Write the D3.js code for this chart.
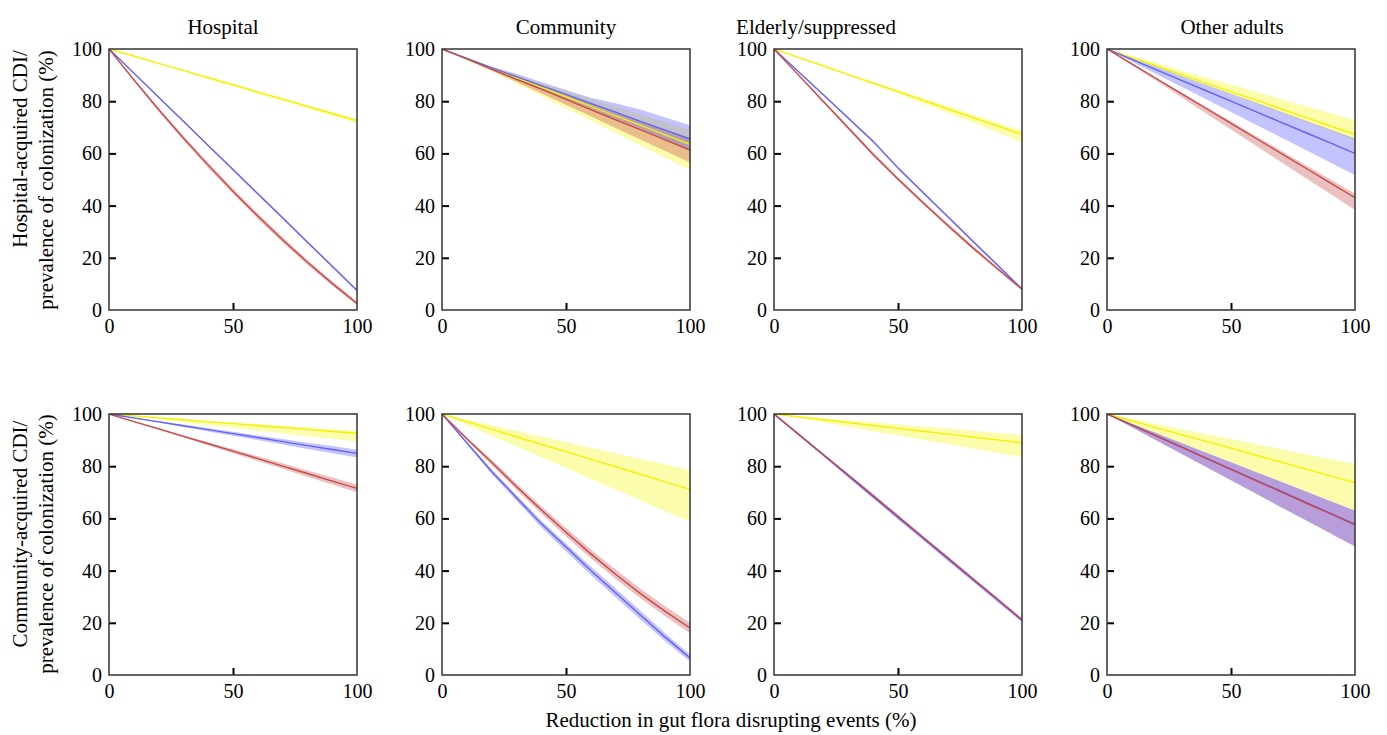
<!DOCTYPE html>
<html><head><meta charset="utf-8">
<script src="https://cdn.jsdelivr.net/npm/d3@7"></script>
<style>
html,body{margin:0;padding:0;background:#fff;}
svg{display:block;}
</style></head>
<body><svg id="chart" width="1387" height="735"></svg>
<script>
// ---------- DATA ----------
const xs = [0,10,20,30,40,50,60,70,80,90,100];
const columnTitles = ["Hospital","Community","Elderly/suppressed","Other adults"];
const rowLabels = [["Hospital-acquired CDI/","prevalence of colonization (%)"],
                   ["Community-acquired CDI/","prevalence of colonization (%)"]];
const xAxisLabel = "Reduction in gut flora disrupting events (%)";
const yTicks = [0,20,40,60,80,100];
const xTicks = [0,50,100];

// Row 1: hospital-acquired
const hospHA_yellow = {mid:[100,97.3,94.5,91.8,89,86.3,83.5,80.8,78,75.3,72.5], lo:[100,97.2,94.3,91.5,88.6,85.8,82.9,80.1,77.2,74.4,71.5], hi:[100,97.4,94.6,92,89.3,86.6,83.9,81.2,78.5,75.9,73.2]};
const hospHA_blue   = {mid:[100,90.8,81.5,72.3,63,53.8,44.5,35.3,26,16.8,7.5], lo:[100,90.7,81.3,72,62.7,53.4,44.1,34.9,25.6,16.4,7.1], hi:[100,90.9,81.7,72.6,63.3,54.1,44.9,35.7,26.4,17.2,7.9]};
const hospHA_red    = {mid:[100,88.2,76.8,65.9,55.5,45.5,36,26.9,18.3,10.2,2.5], lo:[100,87.8,76.1,65,54.4,44.4,34.9,25.9,17.3,9.3,1.8], hi:[100,88.6,77.4,66.7,56.4,46.5,37,27.9,19.2,11,3.2]};

const commHA_yellow = {mid:[100,96.3,92.6,89,85.4,81.7,78,74.4,70.8,67.1,63.5], lo:[100,95.7,91.5,86.8,82,77.3,72.5,67.8,63,58.3,53.5], hi:[100,96.6,93.1,90,86.9,83.9,80.9,78,75,72,69]};
const commHA_blue   = {mid:[100,96.4,92.8,89.4,86,82.6,79.2,75.8,72.3,68.9,65.5], lo:[100,96,92,88.3,84.6,80.9,77.2,73.5,69.5,65.5,61], hi:[100,96.6,93.3,90.5,87.4,84.3,81.3,79.2,76.8,73.8,70.8]};
const commHA_red    = {mid:[100,96.2,92.3,88.4,84.6,80.7,76.8,72.9,69.1,65.2,61.3], lo:[100,96,91.8,87.4,83,78.6,74.2,69.7,65.3,60.9,56.5], hi:[100,96.4,92.8,89.3,85.9,82.5,79,75.6,72.3,69.1,66]};

const eldHA_yellow  = {mid:[100,96.7,93.5,90.2,86.9,83.7,80.4,77.1,73.8,70.6,67.3], lo:[100,96.6,93.2,89.8,86.3,82.9,79.2,75.6,71.9,68.1,64.2], hi:[100,96.8,93.7,90.5,87.4,84.3,81.2,78.1,74.9,71.8,68.7]};
const eldHA_blue    = {mid:[100,91.2,82.4,73.5,64.6,54.4,45.1,35.8,26.5,17.3,8], lo:[100,91,82.1,73.1,64.2,54,44.7,35.4,26.1,16.9,7.6], hi:[100,91.4,82.7,73.9,65,54.8,45.5,36.2,26.9,17.7,8.4]};
const eldHA_red     = {mid:[100,89.9,79.8,69.7,59.6,50.2,41.2,32.5,24,15.9,8], lo:[100,89.6,79.3,69.1,58.9,49.5,40.5,31.8,23.3,15.3,7.5], hi:[100,90.2,80.3,70.3,60.3,50.9,41.9,33.2,24.7,16.5,8.5]};

const othHA_yellow  = {mid:[100,96.7,93.5,90.2,86.9,83.6,80.4,77.1,73.8,70.5,67.3], lo:[100,96.5,93,89.5,86,82.5,79,75.5,72,68.5,65], hi:[100,97.3,94.6,91.8,89.1,86.4,83.7,80.9,78.2,75.5,72.8]};
const othHA_blue    = {mid:[100,96,92,88,84,80,76,72,68,64,60], lo:[100,95.2,90.3,85.5,80.7,75.9,71,66.2,61.4,56.5,51.7], hi:[100,96.6,93.2,89.7,86.3,82.9,79.5,76.1,72.6,69.2,65.8]};
const othHA_red     = {mid:[100,94.3,88.6,82.9,77.2,71.5,65.8,60.1,54.4,48.7,43], lo:[100,93.8,87.7,81.5,75.3,69.2,63,56.8,50.6,44.5,38.3], hi:[100,94.5,88.9,83.4,77.8,72.3,66.7,61.2,55.6,50.1,44.5]};

// Row 2: community-acquired
const hospCA_yellow = {mid:[100,99.3,98.5,97.8,97,96.3,95.6,94.8,94.1,93.3,92.6], lo:[100,98.9,97.9,96.8,95.8,94.7,93.6,92.6,91.5,90.5,89.4], hi:[100,99.4,98.7,98.1,97.4,96.8,96.2,95.5,94.9,94.2,93.6]};
const hospCA_blue   = {mid:[100,98.5,97,95.5,94,92.5,91,89.4,87.9,86.4,84.9], lo:[100,98.3,96.7,95,93.3,91.7,90,88.3,86.6,85,83.3], hi:[100,98.6,97.3,95.9,94.5,93.2,91.8,90.4,89,87.7,86.3]};
const hospCA_red    = {mid:[100,97.1,94.3,91.4,88.6,85.8,82.9,80,77.2,74.3,71.5], lo:[100,97,94,91,88,85,82,79,76,73,70], hi:[100,97.3,94.6,91.9,89.2,86.5,83.8,81.1,78.4,75.7,73]};

const commCA_yellow = {mid:[100,97.1,94.2,91.3,88.4,85.6,82.7,79.8,76.9,74,71.1], lo:[100,95.9,91.7,87.6,83.5,79.4,75.2,71.1,67,62.8,58.7], hi:[100,97.9,95.7,93.6,91.4,89.3,87.1,85,82.8,80.7,78.5]};
const commCA_blue   = {mid:[100,89,78,68,58,49,40,31.5,23,14.5,6.5], lo:[100,88.5,77,66.8,56.6,47.4,38.3,29.8,21.3,12.9,5.2], hi:[100,89.4,78.8,69,59.2,50.4,41.6,33.1,24.6,16,7.9]};
const commCA_red    = {mid:[100,90.5,81.5,72.2,63.3,54.7,46.4,38.6,31.2,24.4,18], lo:[100,90,80.5,71,61.9,53.1,44.7,36.8,29.4,22.5,16], hi:[100,91,82.5,73.5,64.7,56.3,48.1,40.4,33,26.3,20]};

const eldCA_yellow  = {mid:[100,98.9,97.8,96.7,95.6,94.5,93.4,92.3,91.2,90.1,89], lo:[100,98.4,96.7,95.1,93.4,91.8,90.1,88.5,86.8,85.2,83.5], hi:[100,99.2,98.4,97.6,96.8,96,95.2,94.4,93.6,92.8,92]};
const eldCA_blue    = {mid:[100,92.1,84.2,76.3,68.3,60.4,52.5,44.6,36.7,28.8,20.9], lo:[100,91.8,83.7,75.6,67.6,59.6,51.7,43.8,35.9,28,20.2], hi:[100,92.3,84.5,76.8,68.9,61,53.1,45.2,37.3,29.4,21.5]};
const eldCA_red     = {mid:[100,92.2,84.4,76.6,68.8,60.8,52.9,45,37.1,29.2,21.2], lo:[100,92,84.1,76.2,68.3,60.4,52.5,44.6,36.7,28.8,20.8], hi:[100,92.4,84.7,77,69.3,61.3,53.3,45.4,37.5,29.6,21.6]};

const othCA_yellow  = {mid:[100,97.4,94.7,92.1,89.5,86.9,84.2,81.6,79,76.3,73.7], lo:[100,96.3,92.6,89,85.3,81.6,77.9,74.2,70.6,66.9,63.2], hi:[100,98.1,96.2,94.2,92.3,90.4,88.5,86.6,84.6,82.7,80.8]};
const othCA_blue    = {mid:[100,95.8,91.6,87.4,83.1,78.9,74.7,70.5,66.2,62,57.8], lo:[100,94.9,89.8,84.8,79.7,74.6,69.5,64.4,59.4,54.3,49.2], hi:[100,96.3,92.6,88.9,85.2,81.5,77.8,74.1,70.4,66.7,63]};
const othCA_red     = {mid:[100,95.8,91.5,87.3,83,78.8,74.5,70.3,66,61.8,57.5], lo:[100,94.9,89.8,84.8,79.7,74.6,69.5,64.4,59.4,54.3,49.2], hi:[100,96.3,92.6,88.9,85.2,81.5,77.8,74.1,70.4,66.7,63]};

const panelData = [
  [hospHA_yellow, hospHA_blue, hospHA_red],
  [commHA_yellow, commHA_blue, commHA_red],
  [eldHA_yellow, eldHA_blue, eldHA_red],
  [othHA_yellow, othHA_blue, othHA_red],
  [hospCA_yellow, hospCA_blue, hospCA_red],
  [commCA_yellow, commCA_blue, commCA_red],
  [eldCA_yellow, eldCA_blue, eldCA_red],
  [othCA_yellow, othCA_blue, othCA_red]
];

// ---------- STYLE / LAYOUT ----------
const FONT = "Liberation Serif";
const seriesStyle = [
  {line:"#f2f200", band:"#f5f500", bandOpacity:0.32},
  {line:"#6262f5", band:"#6a6aff", bandOpacity:0.4},
  {line:"#c84848", band:"#c85050", bandOpacity:0.36}
];
const bandOrder = [0, 2, 1];   // yellow, red, blue bands
const lineOrder = [0, 1, 2];   // yellow, blue, red lines
const colLeft = [109, 442, 774, 1107];
const rowTop = [49, 414];
const pw = 248, ph = 261;
const titleX = [223, 566, 816, 1232];
const labelSize = 21, tickSize = 20;

const svg = d3.select("#chart");
const x = d3.scaleLinear().domain([0,100]).range([0,pw]);
const y = d3.scaleLinear().domain([0,100]).range([ph,0]);

svg.append("defs").append("clipPath").attr("id","clipP")
  .append("rect").attr("width",pw).attr("height",ph);

panelData.forEach((series, i) => {
  const r = Math.floor(i/4), c = i%4;
  const g = svg.append("g").attr("transform",`translate(${colLeft[c]},${rowTop[r]})`);
  const plot = g.append("g").attr("clip-path","url(#clipP)");

  const area = d3.area().x((d,j)=>x(xs[j])).y0(d=>y(d[0])).y1(d=>y(d[1]));
  const line = d3.line().x((d,j)=>x(xs[j])).y(d=>y(d));

  bandOrder.forEach(k=>{
    const s = series[k], st = seriesStyle[k];
    plot.append("path")
      .datum(s.lo.map((v,j)=>[v, s.hi[j]]))
      .attr("d", area)
      .attr("fill", st.band).attr("fill-opacity", st.bandOpacity);
  });
  lineOrder.forEach(k=>{
    const s = series[k], st = seriesStyle[k];
    plot.append("path").datum(s.mid).attr("d", line)
      .attr("fill","none").attr("stroke", st.line).attr("stroke-width",1.4);
  });

  // axes
  const ya = d3.axisLeft(y).tickValues(yTicks).tickSizeInner(-7).tickSizeOuter(0).tickPadding(7);
  const yg = g.append("g").call(ya);
  const xa = d3.axisBottom(x).tickValues(xTicks).tickSizeInner(-7).tickSizeOuter(0).tickPadding(9);
  const xg = g.append("g").attr("transform",`translate(0,${ph})`).call(xa);
  [yg,xg].forEach(a=>{
    a.attr("font-family", null).attr("font-size", null);
    a.select(".domain").remove();
    a.selectAll(".tick line").attr("stroke","#000").attr("stroke-width",2);
    a.selectAll(".tick text").style("font-size",tickSize+"px").style("font-family",FONT).attr("fill","#000");
  });
  yg.selectAll(".tick").filter(d=>d===0||d===100).select("line").remove();
  xg.selectAll(".tick").filter(d=>d===0||d===100).select("line").remove();

  g.append("rect").attr("width",pw).attr("height",ph)
    .attr("fill","none").attr("stroke","#333").attr("stroke-width",1.5);

  if (r===0) {
    svg.append("text").attr("x",titleX[c]).attr("y",34)
      .attr("text-anchor","middle").style("font-size",labelSize+"px").style("font-family",FONT).text(columnTitles[c]);
  }
});

// row labels
const rowLabelCenters = [[149,180],[534,544]];
rowLabels.forEach((lines, r)=>{
  lines.forEach((t, li)=>{
    const cx = li===0 ? 27 : 53;
    svg.append("text")
      .attr("transform",`translate(${cx},${rowLabelCenters[r][li]}) rotate(-90)`)
      .attr("text-anchor","middle").style("font-size",labelSize+"px").style("font-family",FONT).text(t);
  });
});

svg.append("text").attr("x",731).attr("y",727).attr("text-anchor","middle")
  .style("font-size",labelSize+"px").style("font-family",FONT).text(xAxisLabel);
</script>
</body></html>
